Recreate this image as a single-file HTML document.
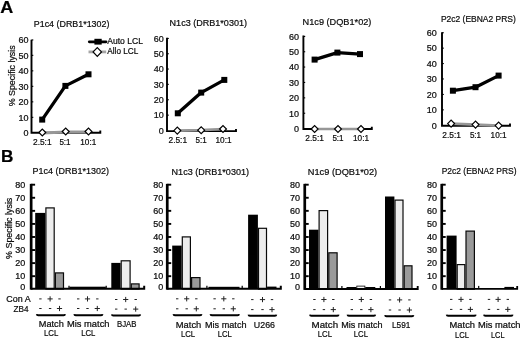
<!DOCTYPE html>
<html><head><meta charset="utf-8"><title>Figure</title>
<style>
html,body{margin:0;padding:0;background:#fff;}
body{width:520px;height:338px;overflow:hidden;font-family:'Liberation Sans', sans-serif;}
svg{display:block;will-change:transform;opacity:0.999;}
svg text{font-family:"Liberation Sans",sans-serif;stroke:#0c0c0c;stroke-width:0.22px;}
</style></head><body>
<svg width="520" height="338" viewBox="0 0 520 338">
<rect width="520" height="338" fill="#fff"/>
<text x="0.3" y="12.5" font-size="17" textLength="13" lengthAdjust="spacingAndGlyphs" font-weight="bold" fill="#000">A</text>
<text x="1.0" y="162.2" font-size="16" textLength="12.4" lengthAdjust="spacingAndGlyphs" font-weight="bold" fill="#000">B</text>
<path d="M31.5,39.7 V132.8 H100.3 v-2.2" fill="none" stroke="#000" stroke-width="1.9" stroke-linejoin="miter"/>
<polyline points="42.3,133.0 65.7,132.0 88.5,132.0" fill="none" stroke="#979797" stroke-width="3.0"/>
<rect x="31.5" y="39.4" width="1.8" height="1.1" fill="#000"/>
<rect x="31.5" y="54.8" width="1.8" height="1.1" fill="#000"/>
<rect x="31.5" y="70.30000000000001" width="1.8" height="1.1" fill="#000"/>
<rect x="31.5" y="85.80000000000001" width="1.8" height="1.1" fill="#000"/>
<rect x="31.5" y="101.30000000000001" width="1.8" height="1.1" fill="#000"/>
<rect x="31.5" y="116.80000000000001" width="1.8" height="1.1" fill="#000"/>
<polyline points="42.2,119.6 65.4,85.9 88.5,74.3" fill="none" stroke="#000" stroke-width="3.3" stroke-linejoin="round"/>
<rect x="39.2" y="116.6" width="6" height="6" fill="#000"/>
<rect x="62.400000000000006" y="82.9" width="6" height="6" fill="#000"/>
<rect x="85.5" y="71.3" width="6" height="6" fill="#000"/>
<path d="M38.849999999999994,132.5 L42.3,129.05 L45.75,132.5 L42.3,135.95 Z" fill="#fff" stroke="#000" stroke-width="1.2"/>
<path d="M62.25,131.5 L65.7,128.05 L69.15,131.5 L65.7,134.95 Z" fill="#fff" stroke="#000" stroke-width="1.2"/>
<path d="M85.05,131.5 L88.5,128.05 L91.95,131.5 L88.5,134.95 Z" fill="#fff" stroke="#000" stroke-width="1.2"/>
<text x="33.8" y="26.9" font-size="9.5" textLength="75.6" lengthAdjust="spacingAndGlyphs" fill="#0c0c0c">P1c4 (DRB1*1302)</text>
<text x="28.6" y="43.2" font-size="9" text-anchor="end" fill="#0c0c0c">60</text>
<text x="28.6" y="58.6" font-size="9" text-anchor="end" fill="#0c0c0c">50</text>
<text x="28.6" y="74.1" font-size="9" text-anchor="end" fill="#0c0c0c">40</text>
<text x="28.6" y="89.6" font-size="9" text-anchor="end" fill="#0c0c0c">30</text>
<text x="28.6" y="105.1" font-size="9" text-anchor="end" fill="#0c0c0c">20</text>
<text x="28.6" y="120.6" font-size="9" text-anchor="end" fill="#0c0c0c">10</text>
<text x="28.6" y="136.1" font-size="9" text-anchor="end" fill="#0c0c0c">0</text>
<text x="33.0" y="145.4" font-size="9" textLength="18.6" lengthAdjust="spacingAndGlyphs" fill="#0c0c0c">2.5:1</text>
<text x="59.4" y="145.4" font-size="9" textLength="11.2" lengthAdjust="spacingAndGlyphs" fill="#0c0c0c">5:1</text>
<text x="80.3" y="145.4" font-size="9" textLength="16.0" lengthAdjust="spacingAndGlyphs" fill="#0c0c0c">10:1</text>
<path d="M167.0,37.7 V131.1 H236.0 v-2.2" fill="none" stroke="#000" stroke-width="1.9" stroke-linejoin="miter"/>
<polyline points="177.3,130.6 201.2,130.2 223,129.0" fill="none" stroke="#979797" stroke-width="2.7"/>
<rect x="167.0" y="37.9" width="1.8" height="1.1" fill="#000"/>
<rect x="167.0" y="53.199999999999996" width="1.8" height="1.1" fill="#000"/>
<rect x="167.0" y="68.5" width="1.8" height="1.1" fill="#000"/>
<rect x="167.0" y="83.80000000000001" width="1.8" height="1.1" fill="#000"/>
<rect x="167.0" y="99.2" width="1.8" height="1.1" fill="#000"/>
<rect x="167.0" y="114.60000000000001" width="1.8" height="1.1" fill="#000"/>
<polyline points="177.8,113.3 201.2,92.6 224.3,79.9" fill="none" stroke="#000" stroke-width="3.3" stroke-linejoin="round"/>
<rect x="174.8" y="110.3" width="6" height="6" fill="#000"/>
<rect x="198.2" y="89.6" width="6" height="6" fill="#000"/>
<rect x="221.3" y="76.9" width="6" height="6" fill="#000"/>
<path d="M173.85000000000002,130.6 L177.3,127.14999999999999 L180.75,130.6 L177.3,134.04999999999998 Z" fill="#fff" stroke="#000" stroke-width="1.2"/>
<path d="M197.75,130.2 L201.2,126.74999999999999 L204.64999999999998,130.2 L201.2,133.64999999999998 Z" fill="#fff" stroke="#000" stroke-width="1.2"/>
<path d="M219.55,129.0 L223,125.55 L226.45,129.0 L223,132.45 Z" fill="#fff" stroke="#000" stroke-width="1.2"/>
<text x="169.6" y="25.6" font-size="9.5" textLength="77.4" lengthAdjust="spacingAndGlyphs" fill="#0c0c0c">N1c3 (DRB1*0301)</text>
<text x="163.7" y="41.7" font-size="9" text-anchor="end" fill="#0c0c0c">60</text>
<text x="163.7" y="57.0" font-size="9" text-anchor="end" fill="#0c0c0c">50</text>
<text x="163.7" y="72.3" font-size="9" text-anchor="end" fill="#0c0c0c">40</text>
<text x="163.7" y="87.6" font-size="9" text-anchor="end" fill="#0c0c0c">30</text>
<text x="163.7" y="103.0" font-size="9" text-anchor="end" fill="#0c0c0c">20</text>
<text x="163.7" y="118.4" font-size="9" text-anchor="end" fill="#0c0c0c">10</text>
<text x="163.7" y="133.8" font-size="9" text-anchor="end" fill="#0c0c0c">0</text>
<text x="168.5" y="142.9" font-size="9" textLength="18.6" lengthAdjust="spacingAndGlyphs" fill="#0c0c0c">2.5:1</text>
<text x="195.6" y="142.9" font-size="9" textLength="11.2" lengthAdjust="spacingAndGlyphs" fill="#0c0c0c">5:1</text>
<text x="215.5" y="142.9" font-size="9" textLength="16.0" lengthAdjust="spacingAndGlyphs" fill="#0c0c0c">10:1</text>
<path d="M303.4,35.6 V129.0 H371.8 v-2.2" fill="none" stroke="#000" stroke-width="1.9" stroke-linejoin="miter"/>
<polyline points="314.6,129.0 338,129.0 361,129.0" fill="none" stroke="#979797" stroke-width="2.7"/>
<rect x="303.4" y="35.9" width="1.8" height="1.1" fill="#000"/>
<rect x="303.4" y="51.199999999999996" width="1.8" height="1.1" fill="#000"/>
<rect x="303.4" y="66.5" width="1.8" height="1.1" fill="#000"/>
<rect x="303.4" y="81.9" width="1.8" height="1.1" fill="#000"/>
<rect x="303.4" y="97.30000000000001" width="1.8" height="1.1" fill="#000"/>
<rect x="303.4" y="112.7" width="1.8" height="1.1" fill="#000"/>
<polyline points="314.6,59.6 337.4,52.6 360,54.1" fill="none" stroke="#000" stroke-width="3.3" stroke-linejoin="round"/>
<rect x="311.6" y="56.6" width="6" height="6" fill="#000"/>
<rect x="334.4" y="49.6" width="6" height="6" fill="#000"/>
<rect x="357" y="51.1" width="6" height="6" fill="#000"/>
<path d="M311.15000000000003,129.0 L314.6,125.55 L318.05,129.0 L314.6,132.45 Z" fill="#fff" stroke="#000" stroke-width="1.2"/>
<path d="M334.55,129.0 L338,125.55 L341.45,129.0 L338,132.45 Z" fill="#fff" stroke="#000" stroke-width="1.2"/>
<path d="M357.55,129.0 L361,125.55 L364.45,129.0 L361,132.45 Z" fill="#fff" stroke="#000" stroke-width="1.2"/>
<text x="302.6" y="25.1" font-size="9.5" textLength="68.8" lengthAdjust="spacingAndGlyphs" fill="#0c0c0c">N1c9 (DQB1*02)</text>
<text x="299.1" y="39.7" font-size="9" text-anchor="end" fill="#0c0c0c">60</text>
<text x="299.1" y="55.0" font-size="9" text-anchor="end" fill="#0c0c0c">50</text>
<text x="299.1" y="70.3" font-size="9" text-anchor="end" fill="#0c0c0c">40</text>
<text x="299.1" y="85.7" font-size="9" text-anchor="end" fill="#0c0c0c">30</text>
<text x="299.1" y="101.1" font-size="9" text-anchor="end" fill="#0c0c0c">20</text>
<text x="299.1" y="116.5" font-size="9" text-anchor="end" fill="#0c0c0c">10</text>
<text x="299.1" y="131.8" font-size="9" text-anchor="end" fill="#0c0c0c">0</text>
<text x="305.3" y="141.3" font-size="9" textLength="18.6" lengthAdjust="spacingAndGlyphs" fill="#0c0c0c">2.5:1</text>
<text x="332.4" y="141.3" font-size="9" textLength="11.2" lengthAdjust="spacingAndGlyphs" fill="#0c0c0c">5:1</text>
<text x="353.0" y="141.3" font-size="9" textLength="16.0" lengthAdjust="spacingAndGlyphs" fill="#0c0c0c">10:1</text>
<path d="M442,32.2 V125.7 H510.0 v-2.2" fill="none" stroke="#000" stroke-width="1.9" stroke-linejoin="miter"/>
<polyline points="451.1,123.6 475.5,124.6 498.6,125.6" fill="none" stroke="#979797" stroke-width="2.7"/>
<rect x="442" y="32.199999999999996" width="1.8" height="1.1" fill="#000"/>
<rect x="442" y="47.6" width="1.8" height="1.1" fill="#000"/>
<rect x="442" y="63.0" width="1.8" height="1.1" fill="#000"/>
<rect x="442" y="78.4" width="1.8" height="1.1" fill="#000"/>
<rect x="442" y="93.9" width="1.8" height="1.1" fill="#000"/>
<rect x="442" y="109.30000000000001" width="1.8" height="1.1" fill="#000"/>
<polyline points="452.9,90.7 475.5,87.2 498.6,75.6" fill="none" stroke="#000" stroke-width="3.3" stroke-linejoin="round"/>
<rect x="449.9" y="87.7" width="6" height="6" fill="#000"/>
<rect x="472.5" y="84.2" width="6" height="6" fill="#000"/>
<rect x="495.6" y="72.6" width="6" height="6" fill="#000"/>
<path d="M447.65000000000003,123.6 L451.1,120.14999999999999 L454.55,123.6 L451.1,127.05 Z" fill="#fff" stroke="#000" stroke-width="1.2"/>
<path d="M472.05,124.6 L475.5,121.14999999999999 L478.95,124.6 L475.5,128.04999999999998 Z" fill="#fff" stroke="#000" stroke-width="1.2"/>
<path d="M495.15000000000003,125.6 L498.6,122.14999999999999 L502.05,125.6 L498.6,129.04999999999998 Z" fill="#fff" stroke="#000" stroke-width="1.2"/>
<text x="440.9" y="22.1" font-size="9.5" textLength="74.9" lengthAdjust="spacingAndGlyphs" fill="#0c0c0c">P2c2 (EBNA2 PRS)</text>
<text x="436.8" y="36.0" font-size="9" text-anchor="end" fill="#0c0c0c">60</text>
<text x="436.8" y="51.4" font-size="9" text-anchor="end" fill="#0c0c0c">50</text>
<text x="436.8" y="66.8" font-size="9" text-anchor="end" fill="#0c0c0c">40</text>
<text x="436.8" y="82.2" font-size="9" text-anchor="end" fill="#0c0c0c">30</text>
<text x="436.8" y="97.7" font-size="9" text-anchor="end" fill="#0c0c0c">20</text>
<text x="436.8" y="113.1" font-size="9" text-anchor="end" fill="#0c0c0c">10</text>
<text x="436.8" y="128.6" font-size="9" text-anchor="end" fill="#0c0c0c">0</text>
<text x="442.3" y="138.0" font-size="9" textLength="18.6" lengthAdjust="spacingAndGlyphs" fill="#0c0c0c">2.5:1</text>
<text x="469.9" y="138.0" font-size="9" textLength="11.2" lengthAdjust="spacingAndGlyphs" fill="#0c0c0c">5:1</text>
<text x="490.6" y="138.0" font-size="9" textLength="16.0" lengthAdjust="spacingAndGlyphs" fill="#0c0c0c">10:1</text>
<path d="M89.3,41.8 H106" stroke="#000" stroke-width="2.8" stroke-linecap="round"/>
<rect x="94.4" y="38.8" width="7.3" height="5.8" fill="#000"/>
<path d="M88.5,51.9 H106.2" stroke="#a6a6a6" stroke-width="2.8"/>
<path d="M93.1,51.9 L97.3,47.5 L101.5,51.9 L97.3,56.3 Z" fill="#fff" stroke="#000" stroke-width="1.2"/>
<text x="107.3" y="44.3" font-size="8.9" textLength="35.6" lengthAdjust="spacingAndGlyphs" fill="#0c0c0c">Auto LCL</text>
<text x="107.3" y="53.7" font-size="8.9" textLength="31.0" lengthAdjust="spacingAndGlyphs" fill="#0c0c0c">Allo LCL</text>
<text transform="translate(14.6,106.3) rotate(-90)" font-size="8.4" textLength="61.0" lengthAdjust="spacingAndGlyphs" fill="#0c0c0c">% Specific lysis</text>
<text transform="translate(11.8,258.9) rotate(-90)" font-size="8.4" textLength="61.2" lengthAdjust="spacingAndGlyphs" fill="#0c0c0c">% Specific lysis</text>
<rect x="35.2" y="212.9" width="10.1" height="76.15" fill="#000"/>
<rect x="45.9" y="207.9" width="8.3" height="81.15" fill="#ededed" stroke="#0a0a0a" stroke-width="1.2"/>
<rect x="55.4" y="272.9" width="8.1" height="16.15" fill="#9a9a9a" stroke="#0a0a0a" stroke-width="1.2"/>
<rect x="69.5" y="286.7" width="36.3" height="2.35" fill="#000"/>
<rect x="111.3" y="262.9" width="9.3" height="26.15" fill="#000"/>
<rect x="121.2" y="260.8" width="8.9" height="28.25" fill="#ededed" stroke="#0a0a0a" stroke-width="1.2"/>
<rect x="131.3" y="283.9" width="7.8" height="5.15" fill="#9a9a9a" stroke="#0a0a0a" stroke-width="1.2"/>
<rect x="29.8" y="183.85" width="2.7" height="105.85" fill="#000"/>
<path d="M31.1,288.75 H144.2 v-3" fill="none" stroke="#000" stroke-width="2.0"/>
<rect x="31.1" y="183.75" width="4.0" height="1.9" fill="#000"/>
<rect x="31.1" y="196.82" width="4.0" height="1.9" fill="#000"/>
<rect x="31.1" y="209.89" width="4.0" height="1.9" fill="#000"/>
<rect x="31.1" y="222.96" width="4.0" height="1.9" fill="#000"/>
<rect x="31.1" y="236.03" width="4.0" height="1.9" fill="#000"/>
<rect x="31.1" y="249.1" width="4.0" height="1.9" fill="#000"/>
<rect x="31.1" y="262.17" width="4.0" height="1.9" fill="#000"/>
<rect x="31.1" y="275.24" width="4.0" height="1.9" fill="#000"/>
<rect x="68.4" y="285.75" width="1.2" height="3" fill="#000"/>
<rect x="105.60000000000001" y="285.75" width="1.2" height="3" fill="#000"/>
<text x="32.6" y="174.4" font-size="9.5" textLength="76.3" lengthAdjust="spacingAndGlyphs" fill="#0c0c0c">P1c4 (DRB1*1302)</text>
<text x="25.2" y="188.1" font-size="9" text-anchor="end" fill="#0c0c0c">80</text>
<text x="25.2" y="201.1" font-size="9" text-anchor="end" fill="#0c0c0c">70</text>
<text x="25.2" y="214.1" font-size="9" text-anchor="end" fill="#0c0c0c">60</text>
<text x="25.2" y="227.1" font-size="9" text-anchor="end" fill="#0c0c0c">50</text>
<text x="25.2" y="240.1" font-size="9" text-anchor="end" fill="#0c0c0c">40</text>
<text x="25.2" y="253.1" font-size="9" text-anchor="end" fill="#0c0c0c">30</text>
<text x="25.2" y="266.1" font-size="9" text-anchor="end" fill="#0c0c0c">20</text>
<text x="25.2" y="279.1" font-size="9" text-anchor="end" fill="#0c0c0c">10</text>
<text x="25.2" y="289.8" font-size="9" text-anchor="end" fill="#0c0c0c">0</text>
<rect x="39.199999999999996" y="298.4" width="2.4" height="1" fill="#222"/>
<path d="M47.5,298.9 h5.2 M50.1,296.29999999999995 v5.2" stroke="#222" stroke-width="1" fill="none"/>
<rect x="58.3" y="298.4" width="2.4" height="1" fill="#222"/>
<rect x="39.199999999999996" y="308.0" width="2.4" height="1" fill="#222"/>
<rect x="48.9" y="308.0" width="2.4" height="1" fill="#222"/>
<path d="M56.9,308.5 h5.2 M59.5,305.9 v5.2" stroke="#222" stroke-width="1" fill="none"/>
<path d="M36.8,314.1 q0.1,1.1 1.4,1.1 H63.6 q1.3,0 1.4,-1.1" fill="none" stroke="#000" stroke-width="1.9"/>
<text x="38.8" y="327.0" font-size="9.4" textLength="25.0" lengthAdjust="spacingAndGlyphs" fill="#0c0c0c">Match</text>
<text x="43.9" y="336.2" font-size="9.8" textLength="14.4" lengthAdjust="spacingAndGlyphs" fill="#0c0c0c">LCL</text>
<rect x="77.0" y="298.4" width="2.4" height="1" fill="#222"/>
<path d="M84.9,298.9 h5.2 M87.5,296.29999999999995 v5.2" stroke="#222" stroke-width="1" fill="none"/>
<rect x="96.1" y="298.4" width="2.4" height="1" fill="#222"/>
<rect x="77.0" y="308.0" width="2.4" height="1" fill="#222"/>
<rect x="86.3" y="308.0" width="2.4" height="1" fill="#222"/>
<path d="M94.7,308.5 h5.2 M97.3,305.9 v5.2" stroke="#222" stroke-width="1" fill="none"/>
<path d="M74.3,314.1 q0.1,1.1 1.4,1.1 H101.1 q1.3,0 1.4,-1.1" fill="none" stroke="#000" stroke-width="1.9"/>
<text x="67" y="327.0" font-size="9.4" textLength="42.5" lengthAdjust="spacingAndGlyphs" fill="#0c0c0c">Mis match</text>
<text x="81.2" y="336.2" font-size="9.8" textLength="14.2" lengthAdjust="spacingAndGlyphs" fill="#0c0c0c">LCL</text>
<rect x="115.0" y="299.0" width="2.4" height="1" fill="#222"/>
<path d="M123.10000000000001,299.5 h5.2 M125.7,296.9 v5.2" stroke="#222" stroke-width="1" fill="none"/>
<rect x="134.5" y="299.0" width="2.4" height="1" fill="#222"/>
<rect x="115.0" y="308.6" width="2.4" height="1" fill="#222"/>
<rect x="124.5" y="308.6" width="2.4" height="1" fill="#222"/>
<path d="M133.1,309.1 h5.2 M135.7,306.5 v5.2" stroke="#222" stroke-width="1" fill="none"/>
<path d="M111.9,314.4 q0.1,1.1 1.4,1.1 H138.79999999999998 q1.3,0 1.4,-1.1" fill="none" stroke="#000" stroke-width="1.9"/>
<text x="117" y="327.0" font-size="9.4" textLength="19.5" lengthAdjust="spacingAndGlyphs" fill="#0c0c0c">BJAB</text>
<text x="6.3" y="301.8" font-size="9" textLength="24.3" lengthAdjust="spacingAndGlyphs" fill="#0c0c0c">Con A</text>
<text x="13.6" y="311.7" font-size="9" textLength="15" lengthAdjust="spacingAndGlyphs" fill="#0c0c0c">ZB4</text>
<rect x="172.2" y="245.6" width="9.5" height="43.45" fill="#000"/>
<rect x="182.3" y="236.9" width="8.1" height="52.15" fill="#ededed" stroke="#0a0a0a" stroke-width="1.2"/>
<rect x="191.6" y="277.6" width="8.4" height="11.45" fill="#9a9a9a" stroke="#0a0a0a" stroke-width="1.2"/>
<rect x="208.5" y="286.8" width="31.0" height="2.25" fill="#000"/>
<rect x="248.1" y="214.7" width="9.8" height="74.35" fill="#000"/>
<rect x="258.5" y="228.3" width="8.0" height="60.75" fill="#ededed" stroke="#0a0a0a" stroke-width="1.2"/>
<rect x="267.1" y="286.6" width="9.4" height="2.45" fill="#000"/>
<rect x="165.9" y="183.85" width="2.7" height="105.85" fill="#000"/>
<path d="M167.2,288.75 H280.8 v-3" fill="none" stroke="#000" stroke-width="2.0"/>
<rect x="167.2" y="183.75" width="4.0" height="1.9" fill="#000"/>
<rect x="167.2" y="196.82" width="4.0" height="1.9" fill="#000"/>
<rect x="167.2" y="209.89" width="4.0" height="1.9" fill="#000"/>
<rect x="167.2" y="222.96" width="4.0" height="1.9" fill="#000"/>
<rect x="167.2" y="236.03" width="4.0" height="1.9" fill="#000"/>
<rect x="167.2" y="249.1" width="4.0" height="1.9" fill="#000"/>
<rect x="167.2" y="262.17" width="4.0" height="1.9" fill="#000"/>
<rect x="167.2" y="275.24" width="4.0" height="1.9" fill="#000"/>
<rect x="206.3" y="285.75" width="1.2" height="3" fill="#000"/>
<rect x="241.6" y="285.75" width="1.2" height="3" fill="#000"/>
<text x="171.6" y="175.1" font-size="9.5" textLength="77.4" lengthAdjust="spacingAndGlyphs" fill="#0c0c0c">N1c3 (DRB1*0301)</text>
<text x="163.2" y="187.6" font-size="9" text-anchor="end" fill="#0c0c0c">80</text>
<text x="163.2" y="200.6" font-size="9" text-anchor="end" fill="#0c0c0c">70</text>
<text x="163.2" y="213.6" font-size="9" text-anchor="end" fill="#0c0c0c">60</text>
<text x="163.2" y="226.6" font-size="9" text-anchor="end" fill="#0c0c0c">50</text>
<text x="163.2" y="239.6" font-size="9" text-anchor="end" fill="#0c0c0c">40</text>
<text x="163.2" y="252.6" font-size="9" text-anchor="end" fill="#0c0c0c">30</text>
<text x="163.2" y="265.6" font-size="9" text-anchor="end" fill="#0c0c0c">20</text>
<text x="163.2" y="278.6" font-size="9" text-anchor="end" fill="#0c0c0c">10</text>
<text x="163.2" y="289.8" font-size="9" text-anchor="end" fill="#0c0c0c">0</text>
<rect x="176.0" y="298.3" width="2.4" height="1" fill="#222"/>
<path d="M184.1,298.8 h5.2 M186.7,296.2 v5.2" stroke="#222" stroke-width="1" fill="none"/>
<rect x="195.10000000000002" y="298.3" width="2.4" height="1" fill="#222"/>
<rect x="176.0" y="308.3" width="2.4" height="1" fill="#222"/>
<rect x="185.5" y="308.3" width="2.4" height="1" fill="#222"/>
<path d="M193.70000000000002,308.8 h5.2 M196.3,306.2 v5.2" stroke="#222" stroke-width="1" fill="none"/>
<path d="M173.5,314.1 q0.1,1.1 1.4,1.1 H200.1 q1.3,0 1.4,-1.1" fill="none" stroke="#000" stroke-width="1.9"/>
<text x="175.8" y="328.1" font-size="9.4" textLength="25.5" lengthAdjust="spacingAndGlyphs" fill="#0c0c0c">Match</text>
<text x="180.9" y="337.1" font-size="9.8" textLength="14.2" lengthAdjust="spacingAndGlyphs" fill="#0c0c0c">LCL</text>
<rect x="213.4" y="298.3" width="2.4" height="1" fill="#222"/>
<path d="M221.20000000000002,298.8 h5.2 M223.8,296.2 v5.2" stroke="#222" stroke-width="1" fill="none"/>
<rect x="232.10000000000002" y="298.3" width="2.4" height="1" fill="#222"/>
<rect x="213.4" y="308.3" width="2.4" height="1" fill="#222"/>
<rect x="222.60000000000002" y="308.3" width="2.4" height="1" fill="#222"/>
<path d="M230.70000000000002,308.8 h5.2 M233.3,306.2 v5.2" stroke="#222" stroke-width="1" fill="none"/>
<path d="M210.5,314.1 q0.1,1.1 1.4,1.1 H237.6 q1.3,0 1.4,-1.1" fill="none" stroke="#000" stroke-width="1.9"/>
<text x="205" y="328.1" font-size="9.4" textLength="41.5" lengthAdjust="spacingAndGlyphs" fill="#0c0c0c">Mis match</text>
<text x="217.7" y="337.1" font-size="9.8" textLength="14.1" lengthAdjust="spacingAndGlyphs" fill="#0c0c0c">LCL</text>
<rect x="251.10000000000002" y="299.1" width="2.4" height="1" fill="#222"/>
<path d="M259.9,299.6 h5.2 M262.5,297.0 v5.2" stroke="#222" stroke-width="1" fill="none"/>
<rect x="270.8" y="299.1" width="2.4" height="1" fill="#222"/>
<rect x="251.10000000000002" y="309.1" width="2.4" height="1" fill="#222"/>
<rect x="261.3" y="309.1" width="2.4" height="1" fill="#222"/>
<path d="M269.4,309.6 h5.2 M272.0,307.0 v5.2" stroke="#222" stroke-width="1" fill="none"/>
<path d="M248.5,314.6 q0.1,1.1 1.4,1.1 H274.90000000000003 q1.3,0 1.4,-1.1" fill="none" stroke="#000" stroke-width="1.9"/>
<text x="253.8" y="328.1" font-size="9.4" textLength="21.2" lengthAdjust="spacingAndGlyphs" fill="#0c0c0c">U266</text>
<rect x="309" y="229.7" width="9.5" height="59.6" fill="#000"/>
<rect x="319.1" y="210.6" width="8.5" height="78.7" fill="#ededed" stroke="#0a0a0a" stroke-width="1.2"/>
<rect x="328.8" y="252.8" width="8.3" height="36.5" fill="#9a9a9a" stroke="#0a0a0a" stroke-width="1.2"/>
<rect x="346.5" y="287.0" width="9.9" height="2.3" fill="#000"/>
<rect x="356.8" y="286.1" width="8.1" height="2.4" fill="#f8f8f8" stroke="#000" stroke-width="0.8"/>
<rect x="365.3" y="287.0" width="10.0" height="2.3" fill="#000"/>
<rect x="385.0" y="196.5" width="9.4" height="92.8" fill="#000"/>
<rect x="395.0" y="200.1" width="8.0" height="89.2" fill="#ededed" stroke="#0a0a0a" stroke-width="1.2"/>
<rect x="404.2" y="265.8" width="7.8" height="23.5" fill="#9a9a9a" stroke="#0a0a0a" stroke-width="1.2"/>
<rect x="303.4" y="183.85" width="2.7" height="106.05" fill="#000"/>
<path d="M304.7,289.0 H417.7 v-3" fill="none" stroke="#000" stroke-width="1.9"/>
<rect x="304.7" y="183.75" width="4.0" height="1.9" fill="#000"/>
<rect x="304.7" y="196.82" width="4.0" height="1.9" fill="#000"/>
<rect x="304.7" y="209.89" width="4.0" height="1.9" fill="#000"/>
<rect x="304.7" y="222.96" width="4.0" height="1.9" fill="#000"/>
<rect x="304.7" y="236.03" width="4.0" height="1.9" fill="#000"/>
<rect x="304.7" y="249.1" width="4.0" height="1.9" fill="#000"/>
<rect x="304.7" y="262.17" width="4.0" height="1.9" fill="#000"/>
<rect x="304.7" y="275.24" width="4.0" height="1.9" fill="#000"/>
<rect x="341.29999999999995" y="286.0" width="1.2" height="3" fill="#000"/>
<rect x="379.79999999999995" y="286.0" width="1.2" height="3" fill="#000"/>
<text x="307.8" y="175.1" font-size="9.5" textLength="69.3" lengthAdjust="spacingAndGlyphs" fill="#0c0c0c">N1c9 (DQB1*02)</text>
<text x="299.9" y="188.1" font-size="9" text-anchor="end" fill="#0c0c0c">80</text>
<text x="299.9" y="201.1" font-size="9" text-anchor="end" fill="#0c0c0c">70</text>
<text x="299.9" y="214.1" font-size="9" text-anchor="end" fill="#0c0c0c">60</text>
<text x="299.9" y="227.1" font-size="9" text-anchor="end" fill="#0c0c0c">50</text>
<text x="299.9" y="240.1" font-size="9" text-anchor="end" fill="#0c0c0c">40</text>
<text x="299.9" y="253.1" font-size="9" text-anchor="end" fill="#0c0c0c">30</text>
<text x="299.9" y="266.1" font-size="9" text-anchor="end" fill="#0c0c0c">20</text>
<text x="299.9" y="279.1" font-size="9" text-anchor="end" fill="#0c0c0c">10</text>
<text x="299.9" y="289.8" font-size="9" text-anchor="end" fill="#0c0c0c">0</text>
<rect x="313.2" y="299.0" width="2.4" height="1" fill="#222"/>
<path d="M321.29999999999995,299.5 h5.2 M323.9,296.9 v5.2" stroke="#222" stroke-width="1" fill="none"/>
<rect x="332.1" y="299.0" width="2.4" height="1" fill="#222"/>
<rect x="313.2" y="309.1" width="2.4" height="1" fill="#222"/>
<rect x="322.7" y="309.1" width="2.4" height="1" fill="#222"/>
<path d="M330.7,309.6 h5.2 M333.3,307.0 v5.2" stroke="#222" stroke-width="1" fill="none"/>
<path d="M310.0,314.7 q0.1,1.1 1.4,1.1 H337.20000000000005 q1.3,0 1.4,-1.1" fill="none" stroke="#000" stroke-width="1.9"/>
<text x="311.6" y="327.7" font-size="9.4" textLength="26.5" lengthAdjust="spacingAndGlyphs" fill="#0c0c0c">Match</text>
<text x="317.8" y="336.9" font-size="9.8" textLength="14.2" lengthAdjust="spacingAndGlyphs" fill="#0c0c0c">LCL</text>
<rect x="350.6" y="299.0" width="2.4" height="1" fill="#222"/>
<path d="M358.7,299.5 h5.2 M361.3,296.9 v5.2" stroke="#222" stroke-width="1" fill="none"/>
<rect x="369.7" y="299.0" width="2.4" height="1" fill="#222"/>
<rect x="350.6" y="309.1" width="2.4" height="1" fill="#222"/>
<rect x="360.1" y="309.1" width="2.4" height="1" fill="#222"/>
<path d="M368.29999999999995,309.6 h5.2 M370.9,307.0 v5.2" stroke="#222" stroke-width="1" fill="none"/>
<path d="M347.5,314.7 q0.1,1.1 1.4,1.1 H373.8 q1.3,0 1.4,-1.1" fill="none" stroke="#000" stroke-width="1.9"/>
<text x="341.3" y="327.7" font-size="9.4" textLength="41.2" lengthAdjust="spacingAndGlyphs" fill="#0c0c0c">Mis match</text>
<text x="353.8" y="336.9" font-size="9.8" textLength="14.2" lengthAdjust="spacingAndGlyphs" fill="#0c0c0c">LCL</text>
<rect x="388.8" y="299.4" width="2.4" height="1" fill="#222"/>
<path d="M397.0,299.9 h5.2 M399.6,297.29999999999995 v5.2" stroke="#222" stroke-width="1" fill="none"/>
<rect x="408.2" y="299.4" width="2.4" height="1" fill="#222"/>
<rect x="388.8" y="309.5" width="2.4" height="1" fill="#222"/>
<rect x="398.40000000000003" y="309.5" width="2.4" height="1" fill="#222"/>
<path d="M406.79999999999995,310.0 h5.2 M409.4,307.4 v5.2" stroke="#222" stroke-width="1" fill="none"/>
<path d="M385.1,315.2 q0.1,1.1 1.4,1.1 H412.0 q1.3,0 1.4,-1.1" fill="none" stroke="#000" stroke-width="1.9"/>
<text x="392" y="327.7" font-size="9.4" textLength="18.4" lengthAdjust="spacingAndGlyphs" fill="#0c0c0c">L591</text>
<rect x="446.6" y="235.6" width="10.0" height="53.6" fill="#000"/>
<rect x="457.2" y="264.6" width="7.6" height="24.6" fill="#ededed" stroke="#0a0a0a" stroke-width="1.2"/>
<rect x="466.0" y="231.1" width="8.4" height="58.1" fill="#9a9a9a" stroke="#0a0a0a" stroke-width="1.2"/>
<rect x="504.4" y="286.9" width="9.6" height="2.3" fill="#000"/>
<rect x="440.4" y="183.85" width="2.7" height="105.9" fill="#000"/>
<path d="M441.7,288.9 H517.2 v-3" fill="none" stroke="#000" stroke-width="1.8"/>
<rect x="441.7" y="183.75" width="4.0" height="1.9" fill="#000"/>
<rect x="441.7" y="196.82" width="4.0" height="1.9" fill="#000"/>
<rect x="441.7" y="209.89" width="4.0" height="1.9" fill="#000"/>
<rect x="441.7" y="222.96" width="4.0" height="1.9" fill="#000"/>
<rect x="441.7" y="236.03" width="4.0" height="1.9" fill="#000"/>
<rect x="441.7" y="249.1" width="4.0" height="1.9" fill="#000"/>
<rect x="441.7" y="262.17" width="4.0" height="1.9" fill="#000"/>
<rect x="441.7" y="275.24" width="4.0" height="1.9" fill="#000"/>
<rect x="478.09999999999997" y="285.9" width="1.2" height="3" fill="#000"/>
<text x="441.7" y="173.9" font-size="9.5" textLength="74.8" lengthAdjust="spacingAndGlyphs" fill="#0c0c0c">P2c2 (EBNA2 PRS)</text>
<text x="437.1" y="188.1" font-size="9" text-anchor="end" fill="#0c0c0c">80</text>
<text x="437.1" y="201.1" font-size="9" text-anchor="end" fill="#0c0c0c">70</text>
<text x="437.1" y="214.1" font-size="9" text-anchor="end" fill="#0c0c0c">60</text>
<text x="437.1" y="227.1" font-size="9" text-anchor="end" fill="#0c0c0c">50</text>
<text x="437.1" y="240.1" font-size="9" text-anchor="end" fill="#0c0c0c">40</text>
<text x="437.1" y="253.1" font-size="9" text-anchor="end" fill="#0c0c0c">30</text>
<text x="437.1" y="266.1" font-size="9" text-anchor="end" fill="#0c0c0c">20</text>
<text x="437.1" y="279.1" font-size="9" text-anchor="end" fill="#0c0c0c">10</text>
<text x="437.1" y="289.8" font-size="9" text-anchor="end" fill="#0c0c0c">0</text>
<rect x="450.0" y="298.9" width="2.4" height="1" fill="#222"/>
<path d="M458.4,299.4 h5.2 M461,296.79999999999995 v5.2" stroke="#222" stroke-width="1" fill="none"/>
<rect x="469.2" y="298.9" width="2.4" height="1" fill="#222"/>
<rect x="450.0" y="308.9" width="2.4" height="1" fill="#222"/>
<rect x="459.8" y="308.9" width="2.4" height="1" fill="#222"/>
<path d="M467.79999999999995,309.4 h5.2 M470.4,306.79999999999995 v5.2" stroke="#222" stroke-width="1" fill="none"/>
<path d="M446.7,314.7 q0.1,1.1 1.4,1.1 H474.3 q1.3,0 1.4,-1.1" fill="none" stroke="#000" stroke-width="1.9"/>
<text x="449.6" y="327.8" font-size="9.4" textLength="25.4" lengthAdjust="spacingAndGlyphs" fill="#0c0c0c">Match</text>
<text x="455.0" y="337.8" font-size="9.8" textLength="14.0" lengthAdjust="spacingAndGlyphs" fill="#0c0c0c">LCL</text>
<rect x="487.8" y="298.9" width="2.4" height="1" fill="#222"/>
<path d="M495.5,299.4 h5.2 M498.1,296.79999999999995 v5.2" stroke="#222" stroke-width="1" fill="none"/>
<rect x="506.6" y="298.9" width="2.4" height="1" fill="#222"/>
<rect x="487.8" y="308.9" width="2.4" height="1" fill="#222"/>
<rect x="496.90000000000003" y="308.9" width="2.4" height="1" fill="#222"/>
<path d="M505.2,309.4 h5.2 M507.8,306.79999999999995 v5.2" stroke="#222" stroke-width="1" fill="none"/>
<path d="M484.0,314.7 q0.1,1.1 1.4,1.1 H511.20000000000005 q1.3,0 1.4,-1.1" fill="none" stroke="#000" stroke-width="1.9"/>
<text x="478" y="327.8" font-size="9.4" textLength="42.5" lengthAdjust="spacingAndGlyphs" fill="#0c0c0c">Mis match</text>
<text x="491.0" y="337.8" font-size="9.8" textLength="13.6" lengthAdjust="spacingAndGlyphs" fill="#0c0c0c">LCL</text>
</svg>
</body></html>
